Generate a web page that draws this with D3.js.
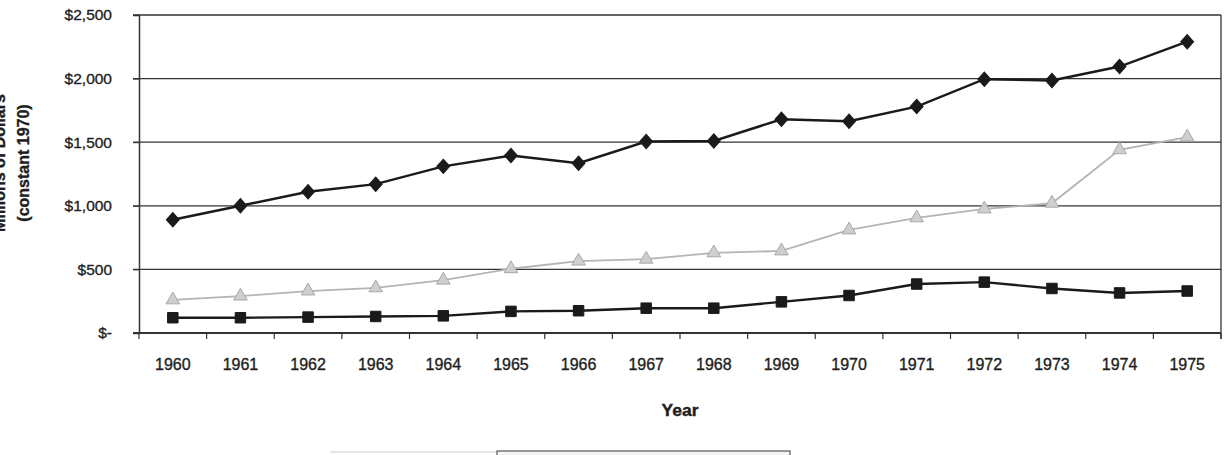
<html>
<head>
<meta charset="utf-8">
<title>Millions of dollars 1960-1975</title>
<style>
  body { margin: 0; background: #fff; }
  svg text { font-family: "Liberation Sans", Arial, sans-serif; fill: #1e1e1e; stroke: #1e1e1e; stroke-width: 0.35px; }
</style>
</head>
<body>
<svg width="1230" height="455"></svg>
<script src="https://cdnjs.cloudflare.com/ajax/libs/d3/7.8.5/d3.min.js"></script>
<script>

var years = ['1960', '1961', '1962', '1963', '1964', '1965', '1966', '1967',
             '1968', '1969', '1970', '1971', '1972', '1973', '1974', '1975'];
var diamondSeries = [890, 1000, 1110, 1170, 1310, 1395, 1335, 1505, 1510, 1680, 1665, 1780, 1995, 1985, 2095, 2290];
var triangleSeries = [260, 290, 330, 355, 415, 505, 565, 580, 630, 645, 810, 905, 975, 1020, 1440, 1540];
var squareSeries = [120, 120, 125, 130, 135, 170, 175, 195, 195, 245, 295, 385, 400, 350, 315, 330];
var yTicks = [0, 500, 1000, 1500, 2000, 2500];

// plot box
var pLeft = 139, pRight = 1221, pTop = 15, pBottom = 333;

var svg = d3.select('svg');

var x = d3.scaleBand().domain(years).range([pLeft, pRight]).padding(0);
var y = d3.scaleLinear().domain([0, 2500]).range([pBottom, pTop]);

function money(v) {
    return v === 0 ? '$-' : '$' + d3.format(',')(v);
}

// gridlines
svg.append('g')
    .selectAll('line')
    .data(yTicks)
    .enter().append('line')
    .attr('x1', pLeft - 6).attr('x2', pRight)
    .attr('y1', function (d) { return y(d); })
    .attr('y2', function (d) { return y(d); })
    .attr('stroke', '#333')
    .attr('stroke-width', 1.3);

// right border
svg.append('line')
    .attr('x1', pRight).attr('x2', pRight)
    .attr('y1', pTop).attr('y2', pBottom + 6)
    .attr('stroke', '#333').attr('stroke-width', 1.3);

// y axis
var yAxis = svg.append('g')
    .attr('transform', 'translate(' + pLeft + ',0)')
    .call(d3.axisLeft(y).tickValues(yTicks).tickFormat(money).tickSize(6).tickPadding(21));
yAxis.select('.domain').attr('stroke', '#333').attr('stroke-width', 1.5);
yAxis.selectAll('.tick line').attr('stroke', '#333');
yAxis.selectAll('.tick text')
    .attr('font-size', 15.5)
    .style('fill', '#1e1e1e')
    .attr('font-family', '"Liberation Sans", Arial, sans-serif');

// x axis, ticks between the categories
var bounds = years.map(function (d) { return x(d); }).concat([pRight]);
svg.append('g')
    .selectAll('line')
    .data(bounds)
    .enter().append('line')
    .attr('x1', function (d) { return d; })
    .attr('x2', function (d) { return d; })
    .attr('y1', pBottom).attr('y2', pBottom + 6)
    .attr('stroke', '#333').attr('stroke-width', 1.2);

svg.append('line')
    .attr('x1', pLeft - 6).attr('x2', pRight)
    .attr('y1', pBottom).attr('y2', pBottom)
    .attr('stroke', '#333').attr('stroke-width', 1.8);

svg.append('g')
    .selectAll('text')
    .data(years)
    .enter().append('text')
    .attr('x', function (d) { return x(d) + x.bandwidth() / 2; })
    .attr('y', 370)
    .attr('text-anchor', 'middle')
    .attr('font-size', 16)
    .text(function (d) { return d; });

// axis titles
svg.append('text')
    .attr('x', (pLeft + pRight) / 2)
    .attr('y', 416)
    .attr('text-anchor', 'middle')
    .attr('font-size', 16)
    .attr('font-weight', 'bold')
    .attr('textLength', 37)
    .attr('lengthAdjust', 'spacingAndGlyphs')
    .text('Year');

svg.append('text')
    .attr('transform', 'translate(29,163) rotate(-90)')
    .attr('text-anchor', 'middle')
    .attr('font-size', 16)
    .attr('font-weight', 'bold')
    .text('(constant 1970)');

// first title line, mostly off the left edge as in the scan
svg.append('text')
    .attr('transform', 'translate(5,163) rotate(-90)')
    .attr('text-anchor', 'middle')
    .attr('font-size', 16)
    .attr('font-weight', 'bold')
    .text('Millions of Dollars');

// series
var line = d3.line()
    .x(function (d, i) { return x(years[i]) + x.bandwidth() / 2; })
    .y(function (d) { return y(d); });

svg.append('path')
    .datum(triangleSeries)
    .attr('d', line)
    .attr('fill', 'none')
    .attr('stroke', '#b4b4b4')
    .attr('stroke-width', 1.8);

svg.append('path')
    .datum(squareSeries)
    .attr('d', line)
    .attr('fill', 'none')
    .attr('stroke', '#1a1a1a')
    .attr('stroke-width', 2.4);

svg.append('path')
    .datum(diamondSeries)
    .attr('d', line)
    .attr('fill', 'none')
    .attr('stroke', '#1a1a1a')
    .attr('stroke-width', 2.4);

function drawMarkers(data, symbolType, size, fill, stroke, extra) {
    svg.append('g')
        .selectAll('path')
        .data(data)
        .enter().append('path')
        .attr('d', d3.symbol().type(symbolType).size(size))
        .attr('transform', function (d, i) {
            return 'translate(' + (x(years[i]) + x.bandwidth() / 2) + ',' + y(d) + ')' + (extra || '');
        })
        .attr('fill', fill)
        .attr('stroke', stroke)
        .attr('stroke-width', 1);
}

drawMarkers(triangleSeries, d3.symbolTriangle, 80, '#cfcfcf', '#a8a8a8');
drawMarkers(squareSeries, d3.symbolSquare, 110, '#1a1a1a', '#1a1a1a');
drawMarkers(diamondSeries, d3.symbolSquare, 82, '#1a1a1a', '#1a1a1a', ' scale(1,1.12) rotate(45)');

// top edge of the legend box, cut off by the page
svg.append('line')
    .attr('x1', 330).attr('x2', 497)
    .attr('y1', 452).attr('y2', 452)
    .attr('stroke', '#d0d0d0').attr('stroke-width', 1);
svg.append('rect')
    .attr('x', 497).attr('y', 451)
    .attr('width', 293).attr('height', 20)
    .attr('fill', '#f4f4f4')
    .attr('stroke', '#555').attr('stroke-width', 1.2);

</script>
</body>
</html>
